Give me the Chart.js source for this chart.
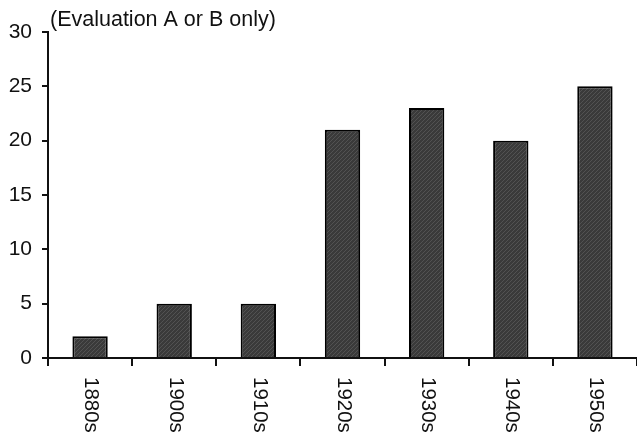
<!DOCTYPE html>
<html>
<head>
<meta charset="utf-8">
<script src="https://cdn.jsdelivr.net/npm/chart.js@4"></script>
<style>
  html, body { margin: 0; padding: 0; background: #fff; }
  canvas { display: block; }
</style>
</head>
<body>
<canvas id="chart" width="637" height="436"></canvas>
<script>
const decades = ['1880s', '1900s', '1910s', '1920s', '1930s', '1940s', '1950s'];
const counts = [2, 5, 5, 21, 23, 20, 25];
const yTickValues = [0, 5, 10, 15, 20, 25, 30];
const note = '(Evaluation A or B only)';

const FONT = '"Liberation Sans", Arial, sans-serif';
const INK = '#111';

// dark fill with a fine diagonal hatch, like the scanned bars
function makeHatch() {
  const c = document.createElement('canvas');
  c.width = 4;
  c.height = 4;
  const g = c.getContext('2d');
  g.fillStyle = '#3a3a3a';
  g.fillRect(0, 0, 4, 4);
  g.strokeStyle = '#525252';
  g.lineWidth = 1;
  g.beginPath();
  g.moveTo(0, 4);
  g.lineTo(4, 0);
  g.stroke();
  return g.createPattern(c, 'repeat');
}

const extraText = {
  id: 'extraText',
  afterDraw(chart) {
    const ctx = chart.ctx;
    const x = chart.scales.x;
    const area = chart.chartArea;

    ctx.save();
    ctx.fillStyle = INK;
    ctx.font = '21.5px ' + FONT;
    ctx.textAlign = 'left';
    ctx.textBaseline = 'alphabetic';
    ctx.fillText(note, area.left + 2, area.top - 6);

    // category labels, rotated to read top to bottom
    ctx.font = '20.5px ' + FONT;
    ctx.textBaseline = 'middle';
    decades.forEach((label, i) => {
      ctx.save();
      ctx.translate(x.getPixelForValue(i) + 1, area.bottom + 19);
      ctx.rotate(Math.PI / 2);
      ctx.fillText(label, 0, 0);
      ctx.restore();
    });
    ctx.restore();
  }
};

new Chart(document.getElementById('chart'), {
  type: 'bar',
  data: {
    labels: decades,
    datasets: [{
      data: counts,
      backgroundColor: makeHatch(),
      borderColor: '#000',
      borderWidth: 2,
      categoryPercentage: 1,
      barPercentage: 0.42
    }]
  },
  options: {
    responsive: false,
    animation: false,
    devicePixelRatio: 1,
    layout: {
      padding: { top: 32, right: 0, left: 0, bottom: 0 }
    },
    plugins: {
      legend: { display: false },
      tooltip: { enabled: false }
    },
    scales: {
      x: {
        offset: true,
        afterFit(scale) { scale.height = 78; },
        grid: {
          offset: true,
          drawOnChartArea: false,
          tickLength: 8,
          color: INK,
          lineWidth: 2
        },
        border: { color: INK, width: 2 },
        ticks: { display: false }
      },
      y: {
        min: 0,
        max: 30,
        afterFit(scale) { scale.width = 48; },
        afterBuildTicks(scale) {
          scale.ticks = yTickValues.map(v => ({ value: v }));
        },
        grid: {
          drawOnChartArea: false,
          tickLength: 6,
          color: INK,
          lineWidth: 2
        },
        border: { color: INK, width: 2 },
        ticks: {
          color: INK,
          padding: 10,
          font: { family: FONT, size: 21 }
        }
      }
    }
  },
  plugins: [extraText]
});
</script>
</body>
</html>
